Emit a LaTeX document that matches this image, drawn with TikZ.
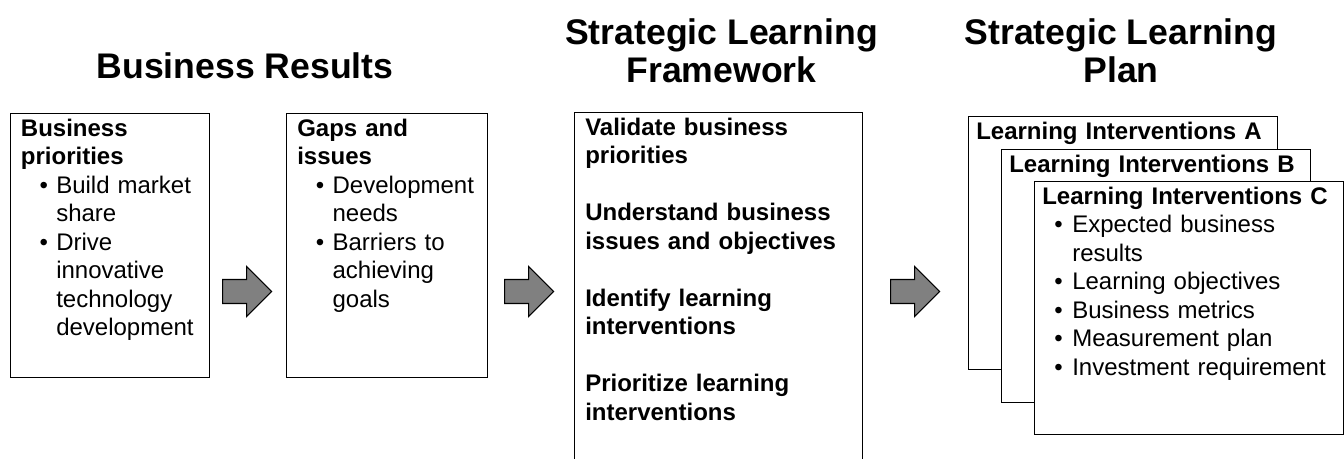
\documentclass[tikz,border=0pt]{standalone}
\usepackage{fontspec}
\setmainfont{Liberation Sans}
\usepackage{tikz}
\usetikzlibrary{shapes, arrows, positioning}
\setlength{\parindent}{0pt}
\newlength\bulind
\newlength\txtind
\setlength\bulind{14pt}
\setlength\txtind{26.5pt}
\newcommand{\bpt}[1]{\par\noindent\hangindent=\txtind\hangafter=1\hspace*{\bulind}\makebox[\dimexpr\txtind-\bulind\relax][l]{\textbullet}#1\par}
\tikzset{
  titlenode/.style={align=center, font=\fontsize{26.7}{28.5}\selectfont\bfseries, inner sep=0pt},
  panelnode/.style={draw, line width=0.8pt, fill=white, rectangle, anchor=north west, inner sep=0pt},
  stacknode/.style={panelnode, minimum width=231.75pt, minimum height=189.5pt},
  textnode/.style={anchor=north west, inner sep=0pt, text width=#1, align=left, font=\fontsize{18}{21.4}\selectfont},
  blockarrow/.style={single arrow, draw, fill=gray, line width=0.8pt, single arrow head extend=9.75pt, inner xsep=0pt, inner ysep=8.6pt, minimum height=36.75pt, anchor=tail}
}
\begin{document}
\begin{tikzpicture}[x=0.75pt, y=-0.75pt]
\useasboundingbox (0,0) rectangle (1344,459);

% Titles
\node[titlenode, anchor=base] (H1) at (245,79) {Business Results};
\node[titlenode, anchor=north] (H2) at (721.5,18) {Strategic Learning\\Framework};
\node[titlenode, anchor=north] (H3) at (1121,18) {Strategic Learning\\Plan};

% Panels
\node[panelnode, minimum width=149.25pt, minimum height=198pt] (B1) at (10,113) {};
\node[textnode=170pt] (T1) at ([xshift=8pt, yshift=-4.1pt]B1.north west) {%
  \textbf{Business\newline priorities}
  \bpt{Build market\newline share}
  \bpt{Drive\newline innovative\newline technology\newline development}};
\node[panelnode, minimum width=150.75pt, minimum height=198pt] (B2) at (286,113) {};
\node[textnode=170pt] (T2) at ([xshift=8.25pt, yshift=-4.1pt]B2.north west) {%
  \textbf{Gaps and\newline issues}
  \bpt{Development\newline needs}
  \bpt{Barriers to\newline achieving\newline goals}};
\node[panelnode, minimum width=216pt, minimum height=285pt] (B3) at (574,112) {};
\node[textnode=220pt] (T3) at ([xshift=8.25pt, yshift=-4.1pt]B3.north west) {\bfseries
  Validate business\newline priorities\par\vspace{\baselineskip}
  Understand business\newline issues and objectives\par\vspace{\baselineskip}
  Identify learning\newline interventions\par\vspace{\baselineskip}
  Prioritize learning\newline interventions};

% Plan stack
\node[stacknode] (SA) at (968,116) {};
\node[textnode=225pt] (TA) at ([xshift=6pt, yshift=-4.1pt]SA.north west) {\textbf{Learning Interventions A}};
\node[stacknode] (SB) at (1001,149) {};
\node[textnode=225pt] (TB) at ([xshift=6pt, yshift=-4.1pt]SB.north west) {\textbf{Learning Interventions B}};
\node[stacknode] (SC) at (1034,181) {};
\node[textnode=225pt] (TC) at ([xshift=6pt, yshift=-4.1pt]SC.north west) {%
  \setlength\bulind{9pt}\setlength\txtind{22.5pt}%
  \textbf{Learning Interventions C}
  \bpt{Expected business\newline results}
  \bpt{Learning objectives}
  \bpt{Business metrics}
  \bpt{Measurement plan}
  \bpt{Investment requirement}};

% Arrows
\node[blockarrow] (A1) at (222,291.5) {};
\node[blockarrow] (A2) at (504,291.5) {};
\node[blockarrow] (A3) at (890,291.5) {};

\end{tikzpicture}
\end{document}
